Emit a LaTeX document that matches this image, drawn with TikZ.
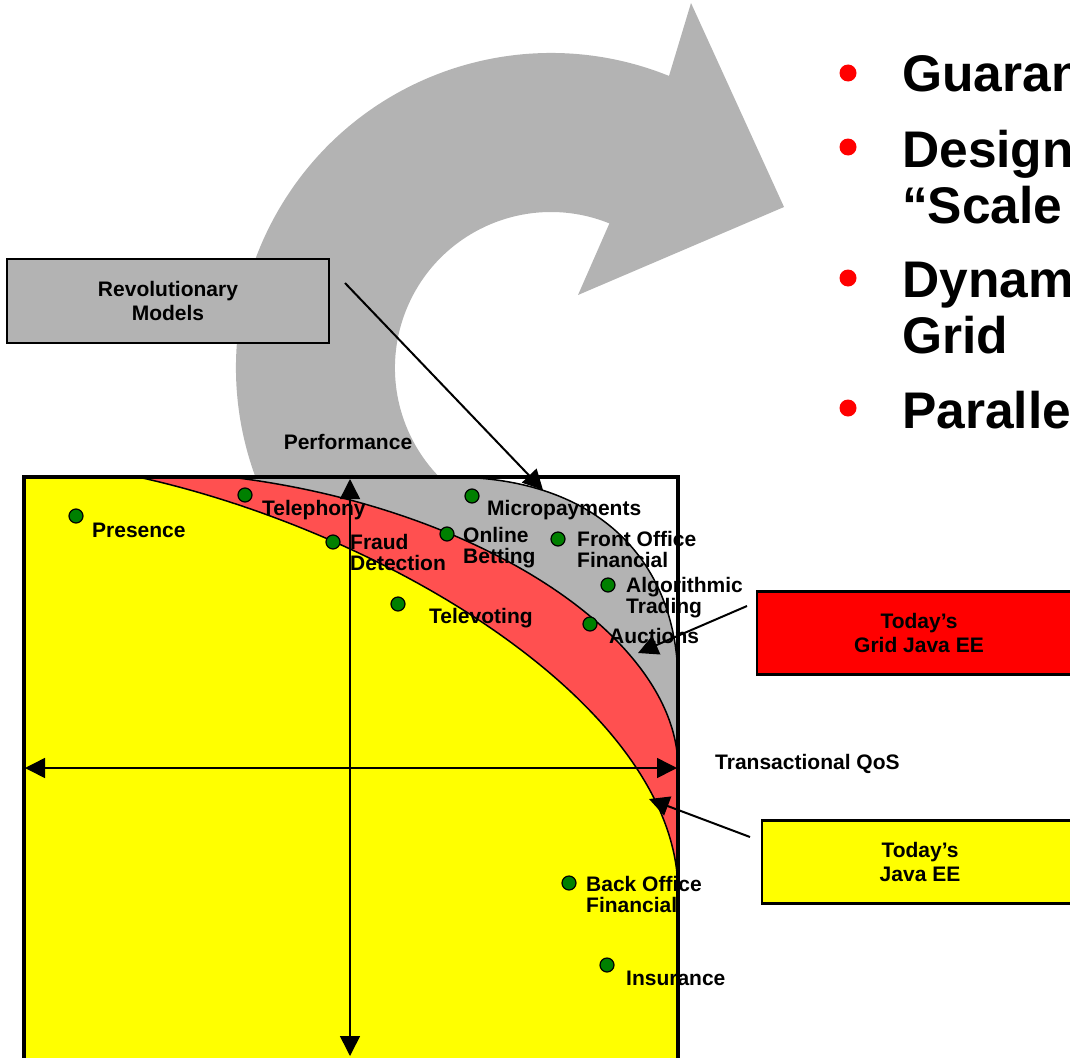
\documentclass[tikz,border=0pt]{standalone}
\usepackage{fontspec}
\setmainfont{Liberation Sans}
\usetikzlibrary{arrows.meta}
\definecolor{swoosh}{HTML}{B3B3B3}
\definecolor{band}{HTML}{FF5050}
\definecolor{leaf}{HTML}{008000}
\definecolor{lemon}{HTML}{FFFF00}
\definecolor{alert}{HTML}{FF0000}
\tikzset{
  app/.style={circle,draw,fill=leaf,line width=1.2pt,inner sep=0pt,minimum size=14pt},
  lbl/.style={anchor=base west,align=left,inner sep=0pt,font=\bfseries\fontsize{21}{21}\selectfont},
  tag/.style={draw,line width=2.2pt,minimum width=322pt,minimum height=84pt,align=center,
    font=\bfseries\fontsize{21}{24}\selectfont},
  ptr/.style={line width=2pt,-{Triangle[length=20pt,width=20pt]}},
  axis/.style={line width=1.5pt,{Triangle[length=20pt,width=20pt]}-{Triangle[length=20pt,width=20pt]}},
  edge/.style={line width=1.5pt},
  bul/.style={circle,fill=alert,inner sep=0pt,minimum size=17pt},
  big/.style={anchor=base west,align=left,inner sep=0pt,font=\bfseries\fontsize{51.5}{56}\selectfont}
}

\begin{document}
\begin{tikzpicture}[x=1pt,y=-1pt]
  \useasboundingbox (0,0) rectangle (1070,1057);
  \clip (0,0) rectangle (1070,1057);
  % big round arrow
  \fill[swoosh] (393.5,640.8) arc[start angle=120,end angle=292,radius=315]
    -- (691,3) -- (784,207) -- (578,295) -- (609.4,223.4)
    arc[start angle=292,end angle=120,radius=156] -- cycle;
  % bullets (base of a two line node is its last line)
  \foreach \i/\y in {1/73,2/147,3/278,4/408} \node[bul] (b\i) at (848,\y) {};
  \node[big] (t1) at (902,92) {Guaran};
  \node[big] (t2) at (902,223) {Design\\“Scale};
  \node[big] (t3) at (902,353) {Dynam\\Grid};
  \node[big] (t4) at (902,428) {Paralle};
  % curves
  \coordinate (g0) at (450,477); \coordinate (g1) at (600,477);
  \coordinate (g2) at (678,563); \coordinate (g3) at (678,683);
  \coordinate (r0) at (230,477); \coordinate (r1) at (480,507);
  \coordinate (r2) at (678,638); \coordinate (r3) at (678,768);
  \coordinate (y0) at (138,477); \coordinate (y1) at (388,532);
  \coordinate (y2) at (678,707); \coordinate (y3) at (678,892);
  \fill[white] (24,477) rectangle (678,1075);
  \fill[swoosh] (24,477) -- (g0) .. controls (g1) and (g2) .. (g3) -- (678,1075) -- (24,1075) -- cycle;
  \fill[band] (24,477) -- (r0) .. controls (r1) and (r2) .. (r3) -- (678,1075) -- (24,1075) -- cycle;
  \fill[lemon] (24,477) -- (y0) .. controls (y1) and (y2) .. (y3) -- (678,1075) -- (24,1075) -- cycle;
  \draw[edge] (g0) .. controls (g1) and (g2) .. (g3);
  \draw[edge] (r0) .. controls (r1) and (r2) .. (r3);
  \draw[edge] (y0) .. controls (y1) and (y2) .. (y3);
  % axes
  \coordinate (ptop) at (350,479); \coordinate (pbot) at (350,1056);
  \coordinate (qleft) at (25,768); \coordinate (qright) at (677,768);
  \draw[axis] (ptop) -- (pbot);
  \draw[axis] (qleft) -- (qright);
  \node[lbl,anchor=base] (perf) at (348,449) {Performance};
  \node[lbl] (qos) at (715,769) {Transactional QoS};
  % applications
  \foreach \n/\x/\y/\lx/\ly/\t in {presence/76/516/92/537/Presence,
      telephony/245/495/262/515/Telephony, fraud/333/542/350/570/Fraud\\Detection,
      betting/447/534/463/563/Online\\Betting, micro/472/496/487/515/Micropayments,
      front/558/539/577/567/Front Office\\Financial, algo/608/585/626/613/Algorithmic\\Trading,
      televoting/398/604/429/623/Televoting, auctions/590/624/609/643/Auctions,
      back/569/883/586/912/Back Office\\Financial, insurance/607/965/626/985/Insurance}
    {\node[app] (\n) at (\x,\y) {};
     \node[lbl] (\n-l) at (\lx,\ly) {\t};}
  \draw[line width=3.5pt] (24,477) rectangle (678,1080);
  % legend boxes
  \node[tag,fill=swoosh] (rev) at (168,301) {Revolutionary\\Models};
  \node[tag,fill=alert,minimum width=324pt,minimum height=83pt] (grid) at (919,633) {Today’s\\Grid Java EE};
  \node[tag,fill=lemon,minimum width=316pt,minimum height=83pt] (jee) at (920,862) {Today’s\\Java EE};
  \coordinate (revfoot) at (345,283); \coordinate (revtip) at (543,490);
  \coordinate (gridfoot) at (747,606); \coordinate (gridtip) at (638,653);
  \coordinate (jeefoot) at (750,837); \coordinate (jeetip) at (649,799);
  \draw[ptr] (revfoot) -- (revtip);
  \draw[ptr] (gridfoot) -- (gridtip);
  \draw[ptr] (jeefoot) -- (jeetip);
\end{tikzpicture}
\end{document}
